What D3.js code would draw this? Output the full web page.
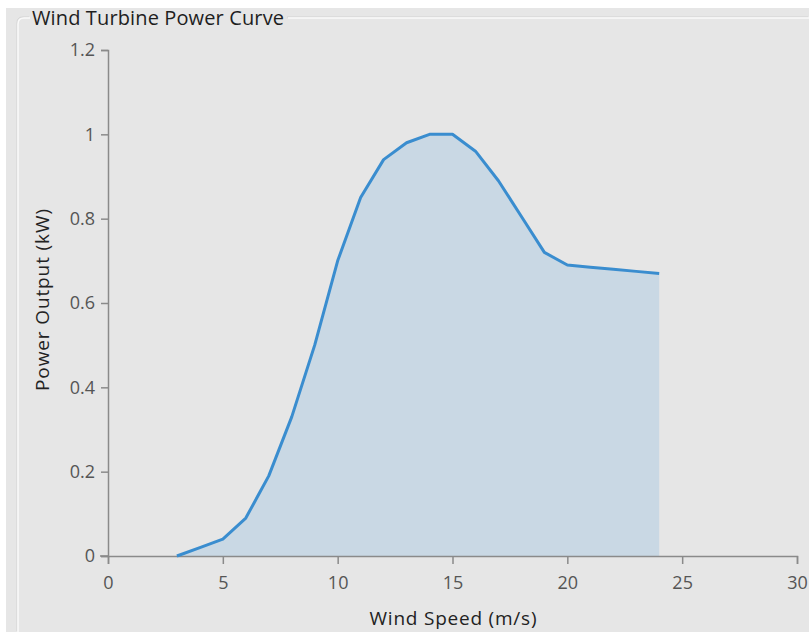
<!DOCTYPE html>
<html>
<head>
<meta charset="utf-8">
<script src="https://cdn.jsdelivr.net/npm/d3@7"></script>
<style>
  body { margin: 0; background: #fff; }
  svg { display: block; font-family: "Open Sans", "Noto Sans", sans-serif; }
</style>
</head>
<body>
<svg id="drawing_region"></svg>
<script>
// wind speed (m/s) and power output (kW)
const windSpeed = [3, 4, 5, 6, 7, 8, 9, 10, 11, 12, 13, 14, 15, 16, 17, 18, 19, 20, 21, 22, 23, 24];
const powerOut  = [0, 0.02, 0.04, 0.09, 0.19, 0.33, 0.5, 0.7, 0.85, 0.94, 0.98, 1.0, 1.0, 0.96, 0.89, 0.805, 0.72, 0.69, 0.685, 0.68, 0.675, 0.67];
const xTicks = [0, 5, 10, 15, 20, 25, 30];
const yTicks = [0, 0.2, 0.4, 0.6, 0.8, 1, 1.2];

const width = 809, height = 632;
const svg = d3.select('#drawing_region')
    .attr('width', width)
    .attr('height', height);

// panel background
svg.append('rect')
    .attr('x', 6).attr('y', 8)
    .attr('width', width - 6).attr('height', height - 8)
    .attr('fill', '#e6e6e6');

// group box border
const border = `M18,${height} V24 Q18,18 24,18 H30 M288,18 H${width}`;
svg.append('path').attr('d', border)
    .attr('fill', 'none').attr('stroke', '#d2d2d2').attr('stroke-width', 1)
    .attr('transform', 'translate(-1,-1)');
svg.append('path').attr('d', border)
    .attr('fill', 'none').attr('stroke', '#fafafa').attr('stroke-width', 1.5);

svg.append('text')
    .attr('x', 32).attr('y', 25)
    .attr('fill', '#1e1e1e')
    .style('font-size', '20px')
    .attr('textLength', 252)
    .text('Wind Turbine Power Curve');

const x = d3.scaleLinear().domain([0, 30]).range([108, 797]);
const y = d3.scaleLinear().domain([0, 1.2]).range([556, 50]);

const data = windSpeed.map((d, i) => ({ x: d, y: powerOut[i] }));

// area under the curve
svg.append('path')
    .datum(data)
    .attr('d', d3.area().x(d => x(d.x)).y0(y(0)).y1(d => y(d.y)))
    .attr('fill', '#c9d8e4');

// axes
const axisColor = '#8a8a8a';
const xAxis = svg.append('g')
    .attr('transform', `translate(0,${y(0)})`)
    .call(d3.axisBottom(x).tickValues(xTicks).tickSize(8).tickSizeOuter(8).tickPadding(12));
const yAxis = svg.append('g')
    .attr('transform', `translate(${x(0)},0)`)
    .call(d3.axisLeft(y).tickValues(yTicks).tickSize(7).tickSizeOuter(7).tickPadding(6)
        .tickFormat(d3.format('~g')));

[xAxis, yAxis].forEach(g => {
    g.select('.domain').attr('stroke', axisColor).attr('stroke-width', 1.5);
    g.selectAll('.tick line').attr('stroke', axisColor).attr('stroke-width', 1.5);
    g.selectAll('.tick text')
        .attr('fill', '#555')
        .style('font-size', '18px')
        .style('font-family', '"Open Sans", "Noto Sans", sans-serif');
});

// x-axis continues a little left of the y axis
svg.append('line')
    .attr('x1', x(0) - 8).attr('x2', x(0))
    .attr('y1', y(0)).attr('y2', y(0))
    .attr('stroke', axisColor).attr('stroke-width', 1.5);

// the curve
svg.append('path')
    .datum(data)
    .attr('d', d3.line().x(d => x(d.x)).y(d => y(d.y)))
    .attr('fill', 'none')
    .attr('stroke', '#3a8dcf')
    .attr('stroke-width', 3)
    .attr('stroke-linejoin', 'round');

// axis titles
svg.append('text')
    .attr('x', 453)
    .attr('y', 625)
    .attr('text-anchor', 'middle')
    .attr('fill', '#222')
    .style('font-size', '19px')
    .attr('textLength', 167)
    .text('Wind Speed (m/s)');

svg.append('text')
    .attr('transform', `translate(49,300) rotate(-90)`)
    .attr('text-anchor', 'middle')
    .attr('fill', '#222')
    .style('font-size', '19px')
    .attr('textLength', 182)
    .text('Power Output (kW)');
</script>
</body>
</html>
